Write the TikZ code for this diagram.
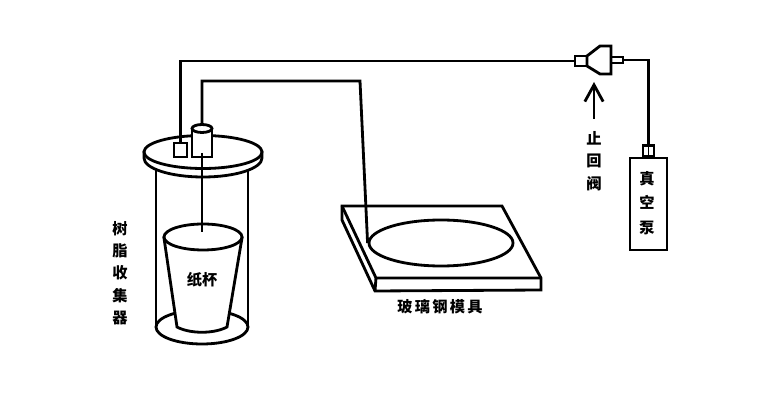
\documentclass[tikz,border=0pt]{standalone}
\usepackage{fontspec}
\setmainfont{Noto Sans CJK SC}
\usepackage{tikz}
\usetikzlibrary{arrows.meta, shapes.geometric}

\tikzset{
    part/.style={draw, line width=2.4pt, fill=white, inner sep=0pt},
    pipe/.style={line width=2.4pt},
    label/.style={font=\fontsize{13}{19}\selectfont\bfseries, align=center, inner sep=0pt}
}

\begin{document}
\begin{tikzpicture}[x=0.03cm, y=-0.03cm]
        \useasboundingbox[fill=white] (0,0) rectangle (770,400);

        % Draw the collector jar
        \draw[pipe] (156,170) -- (156,328);
        \draw[pipe] (248,170) -- (248,328);
        \draw[pipe] (202,327) ellipse [x radius=46, y radius=17];

        % Draw the jar lid
        \draw[part] (144,152) -- (144,158) arc [start angle=180, end angle=0, x radius=59, y radius=19] -- (262,152) -- cycle;
        \node[part, ellipse, minimum width=3.54cm, minimum height=0.99cm] (lid) at (203,152) {};

        % Draw the small box and the tall cylinder on the lid
        \node[part, minimum width=0.39cm, minimum height=0.42cm] (trap) at (180.5,150) {};
        \node[part, minimum width=0.6cm, minimum height=0.87cm] (port) at (202,142.5) {};
        \draw[part] (202,128.5) ellipse [x radius=10, y radius=4];
        \coordinate (porttop) at (202,125);

        % Draw the paper cup
        \draw[part] (164,238) -- (177,327) .. controls (190,334) and (214,334) .. (227,327) -- (242,238) -- cycle;
        \node[part, ellipse, minimum width=2.34cm, minimum height=0.78cm] (cuptop) at (203,237) {};
        \coordinate (cupend) at (202,232);
        \coordinate (portend) at (202,153);
        \draw[pipe] (portend) -- (cupend);

        % Draw the glass fibre mould
        \draw[part] (342,206) -- (502,206) -- (541,278) -- (541,290) -- (375,291) -- (342,220) -- cycle;
        \draw[pipe] (342,206) -- (376,278) -- (541,278);
        \draw[pipe] (376,278) -- (375,291);
        \node[part, ellipse, minimum width=4.32cm, minimum height=1.38cm] (cavity) at (441,243) {};

        % Draw the check valve
        \node[part, minimum width=0.36cm, minimum height=0.3cm] (valvein) at (581,61) {};
        \node[part, minimum width=0.36cm, minimum height=0.18cm] (valveout) at (617,60) {};
        \draw[part] (587,56) -- (600,46) -- (611,46) -- (611,74) -- (600,74) -- (587,66) -- cycle;

        % Draw the vacuum pump
        \node[part, minimum width=1.11cm, minimum height=2.76cm] (pump) at (648.5,204) {};
        \node[part, minimum width=0.33cm, minimum height=0.33cm, anchor=south] (neck) at (648.5,158) {};
        \draw[line width=1.5pt] (neck.north) -- (neck.south);

        % Draw the pipes
        \draw[pipe] (trap.north) |- (valvein.west);
        \coordinate (bend) at (360,81);
        \draw[pipe] (porttop) |- (bend) -- (cavity.west);
        \draw[pipe] (valveout.east) -| (neck.north);

        % Draw the arrow pointing at the valve
        \coordinate (arrowtail) at (594,119);
        \coordinate (arrowtip) at (594,82);
        \draw[pipe, -{Straight Barb[length=0.5cm, width=0.55cm]}] (arrowtail) -- (arrowtip);

        % Add the labels
        \node[label] (cuplabel) at (202,280) {纸杯};
        \node[label] (jarlabel) at (120,273) {树\\脂\\收\\集\\器};
        \node[label] (valvelabel) at (594,161) {止\\回\\阀};
        \node[label] (pumplabel) at (647,203) {真\\[2pt]空\\[2pt]泵};
        \node[label] (mouldlabel) at (440,307) {\addfontfeature{LetterSpace=15}玻璃钢模具};
    \end{tikzpicture}
\end{document}
